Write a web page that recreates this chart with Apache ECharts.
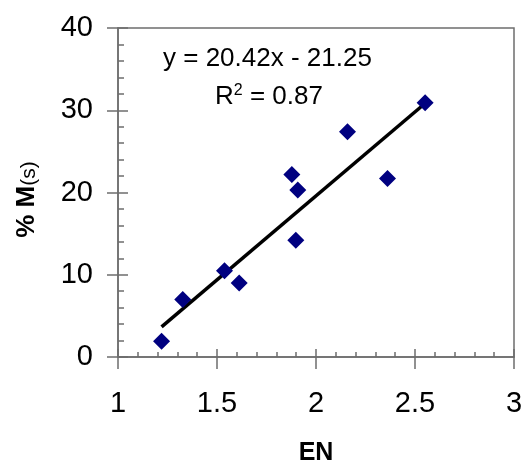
<!DOCTYPE html>
<html>
<head>
<meta charset="utf-8">
<script src="https://cdn.jsdelivr.net/npm/echarts@6/dist/echarts.min.js"></script>
<style>
html,body{margin:0;padding:0;background:#fff;}
#chart{width:522px;height:463px;}
</style>
</head>
<body>
<div id="chart"></div>
<script>
// EN vs % M(s) points
var enValues = [1.22, 1.327, 1.538, 1.612, 1.878, 1.908, 1.898, 2.159, 2.361, 2.551];
var mValues = [1.9, 7.0, 10.5, 9.0, 22.2, 20.3, 14.2, 27.4, 21.7, 30.9];

// trend line ends (y = 20.42x - 21.25)
var trendX = [1.22, 2.55];
var trendY = [3.66, 30.82];

var xTicks = [1, 1.5, 2, 2.5, 3];
var yTicks = [0, 10, 20, 30, 40];

var points = enValues.map(function (x, i) { return [x, mValues[i]]; });
var trend = trendX.map(function (x, i) { return [x, trendY[i]]; });

var font = 'Liberation Sans, Arial, sans-serif';
var axisGray = '#6e6e6e';

var chart = echarts.init(document.getElementById('chart'));

// second axis of each pair only draws the inner ticks
function innerAxis(min, max, step, pos, majorLen, minorLen) {
    return {
        type: 'value', min: min, max: max, interval: step, position: pos,
        axisLine: { show: false },
        axisTick: { show: true, inside: true, length: majorLen, lineStyle: { color: axisGray, width: 1.5 } },
        minorTick: { show: true, splitNumber: 5, length: minorLen, lineStyle: { color: axisGray, width: 1.5 } },
        axisLabel: { show: false },
        splitLine: { show: false }
    };
}

var option = {
    animation: false,
    grid: {
        left: 118, right: 8, top: 28, bottom: 106,
        outerBoundsMode: 'none',
        containLabel: false,
        show: true, borderColor: axisGray, borderWidth: 1.5
    },
    xAxis: [{
        type: 'value',
        min: xTicks[0], max: xTicks[xTicks.length - 1], interval: 0.5,
        name: 'EN', nameLocation: 'middle', nameGap: 84,
        nameTextStyle: { fontFamily: font, fontSize: 25, fontWeight: 'bold', color: '#000' },
        axisLine: { lineStyle: { color: axisGray, width: 1.5 } },
        axisTick: { length: 12, lineStyle: { color: axisGray, width: 1.5 } },
        axisLabel: { fontFamily: font, fontSize: 29, color: '#000', margin: 32 },
        splitLine: { show: false }
    }, innerAxis(xTicks[0], xTicks[xTicks.length - 1], 0.5, 'bottom', 8, 5)],
    yAxis: [{
        type: 'value',
        min: yTicks[0], max: yTicks[yTicks.length - 1], interval: 10,
        name: '% M{s|(s)}', nameLocation: 'middle', nameGap: 78, nameRotate: 90,
        nameTextStyle: {
            fontFamily: font, fontSize: 26, fontWeight: 'bold', color: '#000',
            padding: [0, 14, 0, 0],
            rich: { s: { fontFamily: font, fontSize: 21, fontWeight: 'normal', color: '#000', verticalAlign: 'bottom', lineHeight: 12 } }
        },
        axisLine: { show: true, lineStyle: { color: axisGray, width: 1.5 } },
        axisTick: { show: true, length: 11, lineStyle: { color: axisGray, width: 1.5 } },
        axisLabel: { fontFamily: font, fontSize: 29, color: '#000', margin: 25 },
        splitLine: { show: false }
    }, innerAxis(yTicks[0], yTicks[yTicks.length - 1], 10, 'left', 10, 6)],
    graphic: [{
        type: 'text', left: 163, top: 46,
        style: { text: 'y = 20.42x - 21.25', fontFamily: font, fontSize: 26, fill: '#000' }
    }, {
        type: 'text', left: 215, top: 83,
        style: {
            text: 'R{sup|2} = 0.87',
            fontFamily: font, fontSize: 26, fill: '#000',
            rich: { sup: { fontFamily: font, fontSize: 16, fill: '#000', padding: [0, 0, 12, 0] } }
        }
    }],
    series: [{
        type: 'line',
        data: trend,
        showSymbol: false,
        lineStyle: { color: '#000', width: 3.5 },
        z: 2
    }, {
        type: 'scatter',
        data: points,
        symbol: 'diamond',
        symbolSize: [17, 17],
        itemStyle: { color: '#000080', opacity: 1 },
        z: 3
    }]
};

chart.setOption(option);
</script>
</body>
</html>
